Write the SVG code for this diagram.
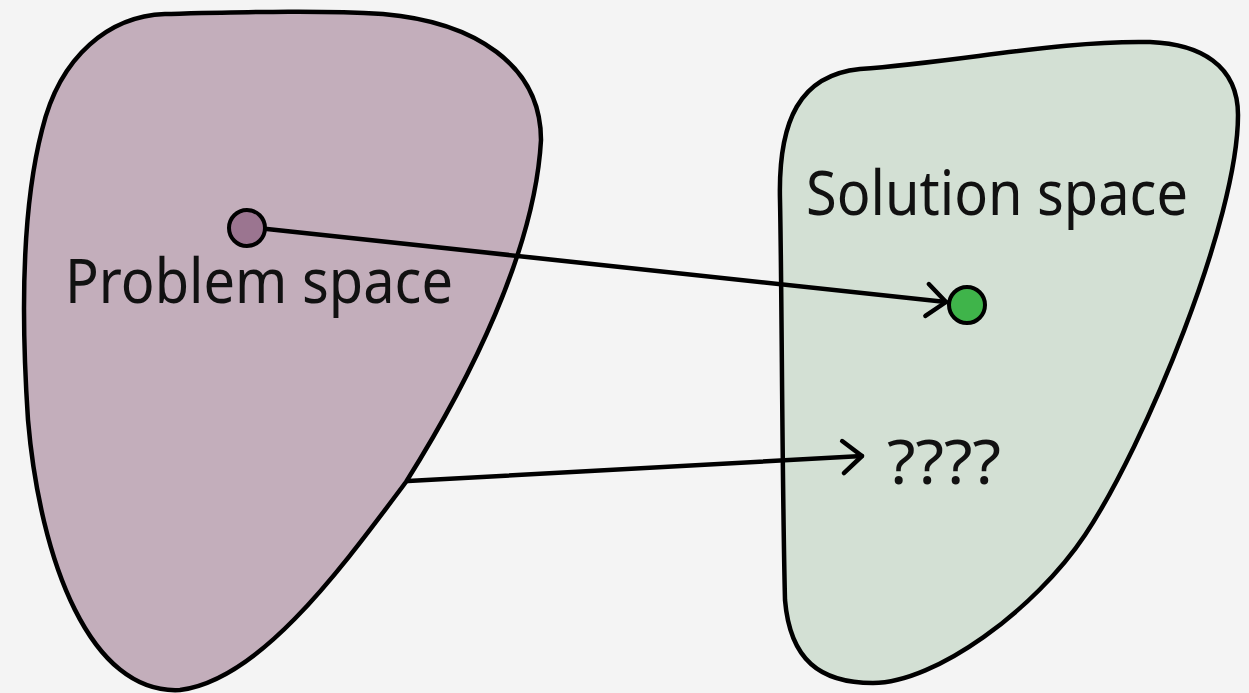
<svg xmlns="http://www.w3.org/2000/svg" width="1249" height="693" viewBox="0 0 1249 693">
  <style>
    .blob { stroke: #000; stroke-width: 4.5; stroke-linejoin: round; }
    .dot { stroke: #000; stroke-width: 4; }
    .conn { fill: none; stroke: #000; stroke-width: 4.5; stroke-linecap: round; }
    .lbl { font-family: "Noto Sans", "Open Sans", "DejaVu Sans", sans-serif; font-size: 62px; fill: #111; }
  </style>
  <defs>
    <marker id="chev" markerUnits="userSpaceOnUse" markerWidth="40" markerHeight="40" viewBox="-30 -20 40 40" refX="0" refY="0" orient="auto">
      <path d="M -19 -16 L 0 0 L -19 16" fill="none" stroke="#000" stroke-width="4.5" stroke-linecap="round" stroke-linejoin="round"/>
    </marker>
  </defs>
  <rect x="0" y="0" width="1249" height="693" fill="#f4f4f4"/>

  <g id="problem-space">
    <path class="blob" fill="#c3aebb" d="M 165 14 C 250 12 320 10 383 14 C 475 22 541 65 541 140 C 535 250 470 380 406 482 C 340 570 260 680 180 690 C 90 695 40 560 28 420 C 20 300 24 200 42 130 C 60 55 110 16 165 14 Z"/>
    <text class="lbl" x="65" y="303" textLength="388" lengthAdjust="spacingAndGlyphs">Problem space</text>
  </g>

  <g id="solution-space">
    <path class="blob" fill="#d3e0d4" d="M 860 69 C 960 62 1060 40 1150 42 C 1200 44 1238 65 1238 115 C 1238 220 1145 445 1085 535 C 1035 610 935 683 873 683 C 820 683 790 660 785 600 C 782 480 782 300 780 200 C 778 120 800 75 860 69 Z"/>
    <text class="lbl" x="806" y="215" textLength="382" lengthAdjust="spacingAndGlyphs">Solution space</text>
  </g>

  <g id="problem-point">
    <circle class="dot" cx="247" cy="228" r="18" fill="#9b7590"/>
  </g>

  <g id="solution-point">
    <circle class="dot" cx="967" cy="305" r="18" fill="#3fb44a"/>
  </g>

  <g id="unknown">
    <text class="lbl" x="887" y="484" textLength="114" lengthAdjust="spacingAndGlyphs">????</text>
  </g>

  <g id="connectors">
    <line class="conn" x1="267" y1="229" x2="946" y2="302" marker-end="url(#chev)"/>
    <line class="conn" x1="408" y1="481" x2="862" y2="456" marker-end="url(#chev)"/>
  </g>
</svg>
